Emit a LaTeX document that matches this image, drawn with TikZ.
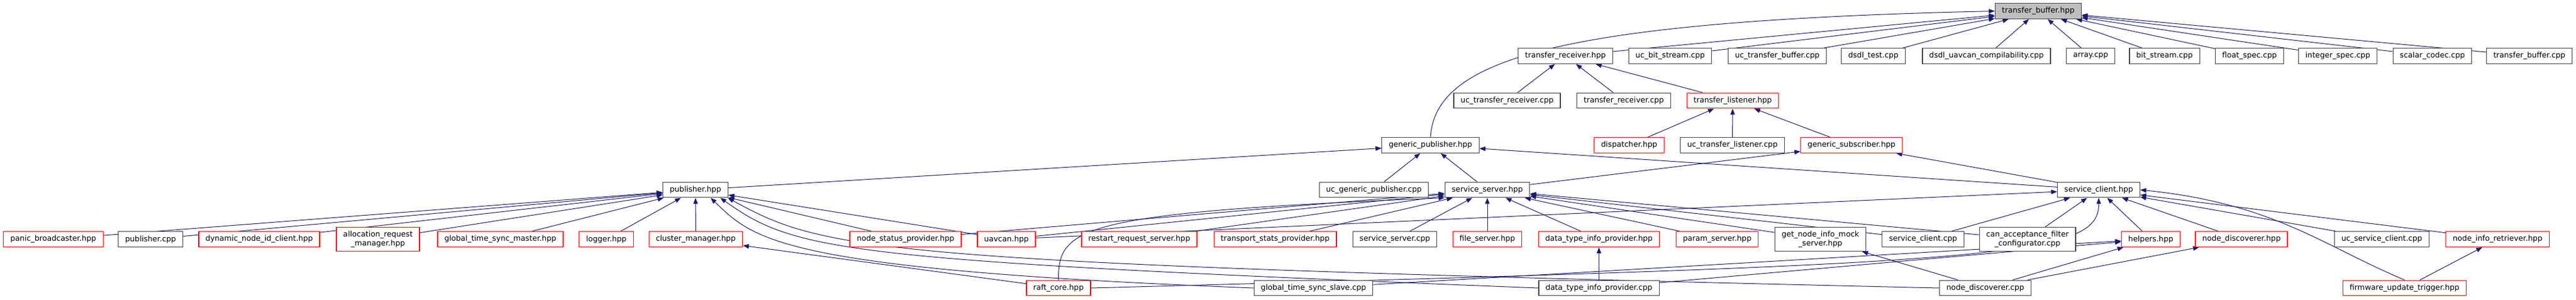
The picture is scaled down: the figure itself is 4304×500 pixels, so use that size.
\documentclass[tikz,border=0pt]{standalone}
\usepackage{fontspec}
\setmainfont{DejaVu Sans}
\usetikzlibrary{arrows.meta,backgrounds}
\definecolor{edgeblue}{HTML}{191970}
\definecolor{boxred}{HTML}{FF0000}
\definecolor{boxgray}{HTML}{BFBFBF}
\begin{document}
\begin{tikzpicture}[x=0.75pt,y=-0.75pt]

    \tikzset{
      incbox/.style={
        draw=black!75,
        line width=0.9pt,
        fill=white,
        inner xsep=8.6pt,
        inner ysep=0pt,
        minimum height=19.3pt,
        align=center,
        font=\fontsize{9.5}{11}\selectfont,
      },
      redbox/.style={incbox, draw=boxred},
      topbox/.style={incbox, fill=boxgray},
      twoline/.style={minimum height=30pt},
      incl/.style={
        draw=edgeblue,
        line width=0.75pt,
        -{Triangle[length=7.5pt,width=5.6pt]},
      },
    }
    \useasboundingbox (0,0) rectangle (4304,500);

	\node[topbox] (tbuf) at (3405.5,18.5) {transfer\_buffer.hpp};

	\node[incbox] (trecv) at (2615.5,93.5) {transfer\_receiver.hpp};
	\node[incbox] (ucbits) at (2790.5,93.5) {uc\_bit\_stream.cpp};
	\node[incbox] (uctbuf) at (2969.5,93.5) {uc\_transfer\_buffer.cpp};
	\node[incbox] (dsdltest) at (3130,93.5) {dsdl\_test.cpp};
	\node[incbox] (dsdlcomp) at (3319,93.5) {dsdl\_uavcan\_compilability.cpp};
	\node[incbox] (arraycpp) at (3493,93.5) {array.cpp};
	\node[incbox] (bitscpp) at (3616.5,93.5) {bit\_stream.cpp};
	\node[incbox] (floatcpp) at (3758.5,93.5) {float\_spec.cpp};
	\node[incbox] (intcpp) at (3906,93.5) {integer\_spec.cpp};
	\node[incbox] (scalarcpp) at (4064,93.5) {scalar\_codec.cpp};
	\node[incbox] (tbufcpp) at (4226,93.5) {transfer\_buffer.cpp};

	\node[incbox] (uctrecv) at (2518,168) {uc\_transfer\_receiver.cpp};
	\node[incbox] (trecvcpp) at (2713,168) {transfer\_receiver.cpp};
	\node[redbox] (tlist) at (2895,168) {transfer\_listener.hpp};

	\node[incbox] (genpub) at (2390,242.5) {generic\_publisher.hpp};
	\node[redbox] (dispatch) at (2722,242.5) {dispatcher.hpp};
	\node[incbox] (uctlist) at (2894.5,242.5) {uc\_transfer\_listener.cpp};
	\node[redbox] (gensub) at (3093.5,242.5) {generic\_subscriber.hpp};

	\node[incbox] (pub) at (1162,317) {publisher.hpp};
	\node[incbox] (ucgenpub) at (2295.5,317) {uc\_generic\_publisher.cpp};
	\node[incbox] (sserv) at (2485,317) {service\_server.hpp};
	\node[incbox] (sclient) at (3506.5,317) {service\_client.hpp};

	\node[redbox] (panic) at (89,399.5) {panic\_broadcaster.hpp};
	\node[incbox] (pubcpp) at (251.5,399.5) {publisher.cpp};
	\node[redbox] (dynid) at (433,399.5) {dynamic\_node\_id\_client.hpp};
	\node[redbox, twoline] (allocreq) at (631.5,399.5) {allocation\_request\\\_manager.hpp};
	\node[redbox] (gtsmaster) at (836,399.5) {global\_time\_sync\_master.hpp};
	\node[redbox] (logger) at (1013,399.5) {logger.hpp};
	\node[redbox] (cluster) at (1162.5,399.5) {cluster\_manager.hpp};
	\node[redbox] (nodestat) at (1513,399.5) {node\_status\_provider.hpp};
	\node[redbox] (uavcan) at (1681.5,399.5) {uavcan.hpp};
	\node[redbox] (restart) at (1903.5,399.5) {restart\_request\_server.hpp};
	\node[redbox] (transport) at (2130.5,399.5) {transport\_stats\_provider.hpp};
	\node[incbox] (sservcpp) at (2330.5,399.5) {service\_server.cpp};
	\node[redbox] (fileserv) at (2485,399.5) {file\_server.hpp};
	\node[redbox] (dtiphpp) at (2671.5,399.5) {data\_type\_info\_provider.hpp};
	\node[redbox] (paramserv) at (2869,399.5) {param\_server.hpp};
	\node[incbox, twoline] (mockserv) at (3041.5,399.5) {get\_node\_info\_mock\\\_server.hpp};
	\node[incbox] (sclientcpp) at (3213,399.5) {service\_client.cpp};
	\node[incbox, twoline] (canacc) at (3387.5,399.5) {can\_acceptance\_filter\\\_configurator.cpp};
	\node[redbox] (helpers) at (3593.5,399.5) {helpers.hpp};
	\node[redbox] (ndhpp) at (3745,399.5) {node\_discoverer.hpp};
	\node[incbox] (ucsclient) at (3979.5,399.5) {uc\_service\_client.cpp};
	\node[redbox] (nir) at (4173,399.5) {node\_info\_retriever.hpp};

	\node[redbox] (raft) at (1768.5,481) {raft\_core.hpp};
	\node[incbox] (gtsslave) at (2194.5,481) {global\_time\_sync\_slave.cpp};
	\node[incbox] (dtipcpp) at (2671.5,481) {data\_type\_info\_provider.cpp};
	\node[incbox] (ndcpp) at (3317,481) {node\_discoverer.cpp};
	\node[redbox] (fut) at (4017.5,481) {firmware\_update\_trigger.hpp};

    \begin{scope}[on background layer]
	\draw[incl] (trecv) -- (tbuf);
	\draw[incl] (ucbits) -- (tbuf);
	\draw[incl] (uctbuf) -- (tbuf);
	\draw[incl] (dsdltest) -- (tbuf);
	\draw[incl] (dsdlcomp) -- (tbuf);
	\draw[incl] (arraycpp) -- (tbuf);
	\draw[incl] (bitscpp) -- (tbuf);
	\draw[incl] (floatcpp) -- (tbuf);
	\draw[incl] (intcpp) -- (tbuf);
	\draw[incl] (scalarcpp) -- (tbuf);
	\draw[incl] (tbufcpp) -- (tbuf);
	\draw[incl] (genpub.north) .. controls (2398,100) and (2600,35) .. (tbuf.west);

	\draw[incl] (uctrecv) -- (trecv);
	\draw[incl] (trecvcpp) -- (trecv);
	\draw[incl] (tlist) -- (trecv);

	\draw[incl] (dispatch) -- (tlist);
	\draw[incl] (uctlist) -- (tlist);
	\draw[incl] (gensub) -- (tlist);

	\draw[incl] (pub) -- (genpub);
	\draw[incl] (ucgenpub) -- (genpub);
	\draw[incl] (sserv) -- (genpub);
	\draw[incl] (sclient) -- (genpub);
	\draw[incl] (sserv) -- (gensub);
	\draw[incl] (sclient) -- (gensub);

	\draw[incl] (panic) -- (pub);
	\draw[incl] (pubcpp) -- (pub);
	\draw[incl] (dynid) -- (pub);
	\draw[incl] (allocreq) -- (pub);
	\draw[incl] (gtsmaster) -- (pub);
	\draw[incl] (logger) -- (pub);
	\draw[incl] (cluster) -- (pub);
	\draw[incl] (nodestat) -- (pub);
	\draw[incl] (uavcan) -- (pub);
	\draw[incl] (gtsslave.west) .. controls (1300,450) and (1260,400) .. (pub.-28);
	\draw[incl] (dtipcpp.west) .. controls (1400,435) and (1330,420) .. (pub.-18);
	\draw[incl] (ndcpp.west) .. controls (1450,440) and (1380,420) .. (pub.-14);
	\draw[incl] (raft) -- (cluster);

	\draw[incl] (nodestat) -- (sserv);
	\draw[incl] (uavcan) -- (sserv);
	\draw[incl] (restart) -- (sserv);
	\draw[incl] (transport) -- (sserv);
	\draw[incl] (sservcpp) -- (sserv);
	\draw[incl] (fileserv) -- (sserv);
	\draw[incl] (dtiphpp) -- (sserv);
	\draw[incl] (paramserv) -- (sserv);
	\draw[incl] (mockserv) -- (sserv);
	\draw[incl] (sclientcpp) -- (sserv);
	\draw[incl] (canacc) -- (sserv);
	\draw[incl] (raft.north) .. controls (1768,380) and (1800,355) .. (sserv.south west);

	\draw[incl] (uavcan) -- (sclient);
	\draw[incl] (sclientcpp) -- (sclient);
	\draw[incl] (canacc) -- (sclient);
	\draw[incl] (helpers) -- (sclient);
	\draw[incl] (ndhpp) -- (sclient);
	\draw[incl] (ucsclient) -- (sclient);
	\draw[incl] (nir) -- (sclient);
	\draw[incl] (raft.east) .. controls (3350,440) and (3507,430) .. (sclient.south);
	\draw[incl] (fut.north) .. controls (3880,410) and (3800,340) .. (sclient.east);

	\draw[incl] (fut) -- (nir);
	\draw[incl] (dtipcpp) -- (dtiphpp);
	\draw[incl] (gtsslave) -- (helpers);
	\draw[incl] (dtipcpp) -- (helpers);
	\draw[incl] (ndcpp) -- (helpers);
	\draw[incl] (ndcpp) -- (ndhpp);
	\draw[incl] (ndcpp) -- (mockserv);
    \end{scope}

\end{tikzpicture}
\end{document}
